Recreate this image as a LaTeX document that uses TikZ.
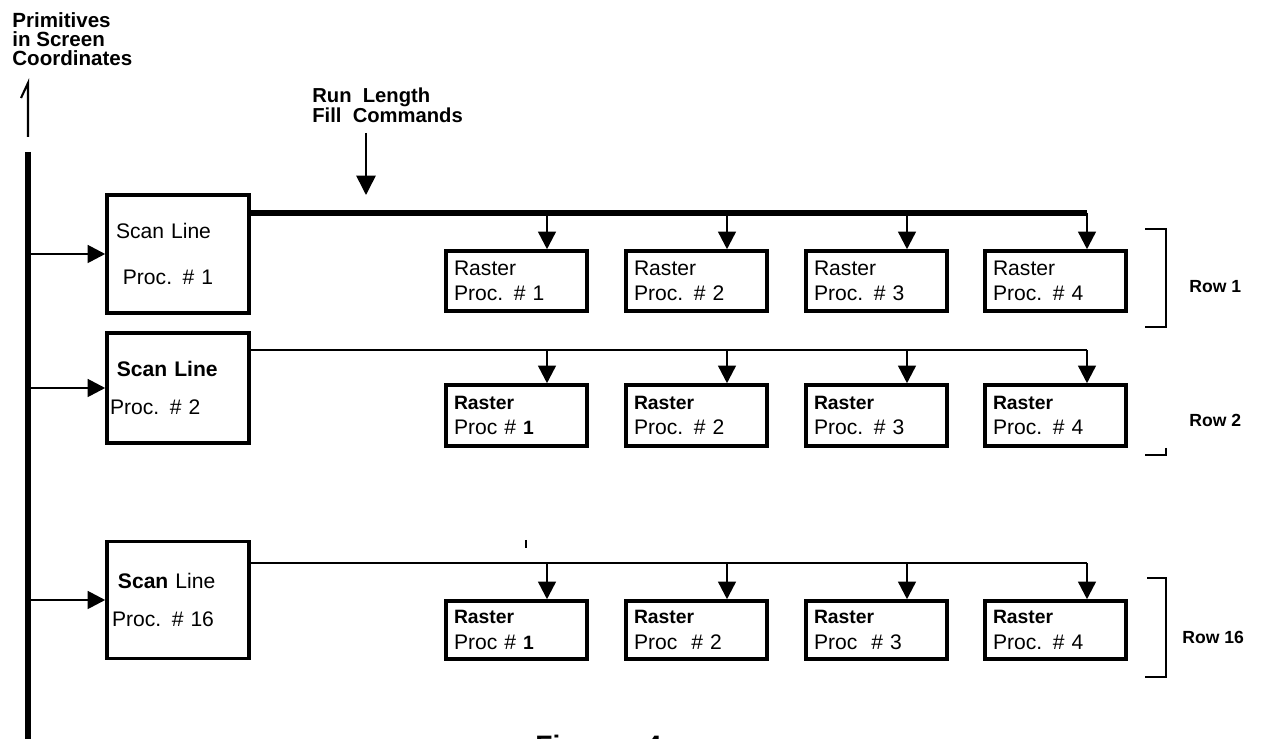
\documentclass[tikz,border=0pt]{standalone}
\usepackage{fontspec}
\setmainfont{Liberation Sans}
\usetikzlibrary{arrows.meta}
\newcommand{\bpart}[1]{{\fontsize{11}{14.5}\selectfont\bfseries #1}}
\tikzset{
  tip/.style={-{Triangle[length=10pt,width=10pt]}},
  scanbox/.style={draw,line width=2pt,minimum width=2.84cm,text width=2.64cm,inner xsep=0.1cm,align=left,font=\fontsize{12}{14.4}\selectfont},
  rasterbox/.style={draw,line width=2pt,minimum height=1.2cm,text width=2.5cm,inner xsep=0.16cm,inner ysep=0pt,align=left,font=\fontsize{12}{14.5}\selectfont},
  lbl/.style={inner sep=0pt,align=left,font=\bfseries\fontsize{11.7}{10.8}\selectfont},
  rowlbl/.style={anchor=base west,inner sep=0pt,font=\bfseries\fontsize{10}{12}\selectfont},
  feed/.style={tip,line width=1.6pt},
  drop/.style={tip,line width=1.4pt},
  bracket/.style={line width=0.7pt}
}
\begin{document}
\begin{tikzpicture}[x=0.02cm,y=-0.02cm]
\useasboundingbox (0,0) rectangle (1265,739);
% input side
\node[lbl,anchor=north west] (prim) at (12,12) {Primitives\\in Screen\\Coordinates};
\coordinate (in1) at (21,98); \coordinate (in2) at (28,83); \coordinate (in3) at (28,137);
\draw[line width=1.2pt] (in1) -- (in2) -- (in3);
\coordinate (bar) at (28,152); \coordinate (barend) at (28,745);
\draw[line width=3.4pt] (bar) -- (barend);

% scan line processors
\node[scanbox,minimum height=2.36cm] (s1) at (178,254) {\hspace*{2.3pt}Scan Line\\[12pt]\hspace*{6.2pt}Proc. \# 1};
\node[scanbox,minimum height=2.2cm] (s2) at (178,388) {\hspace*{2.8pt}\textbf{Scan Line}\\[7pt]\hspace*{-1.1pt}Proc. \# 2};
\node[scanbox,minimum height=2.34cm] (s16) at (178,600) {\hspace*{3.4pt}\textbf{Scan} Line\\[7pt]Proc. \# 16};
\draw[feed] (bar |- s1.west) -- (s1.west);
\draw[feed] (bar |- s2.west) -- (s2.west);
\draw[feed] (bar |- s16.west) -- (s16.west);

% raster processors
\node[rasterbox] (r11) at (516.5,281) {Raster\\Proc. \# 1};
\node[rasterbox] (r12) at (696.5,281) {Raster\\Proc. \# 2};
\node[rasterbox] (r13) at (876.5,281) {Raster\\Proc. \# 3};
\node[rasterbox] (r14) at (1055.5,281) {Raster\\Proc. \# 4};
\node[rasterbox,minimum height=1.22cm] (r21) at (516.5,415.5) {\bpart{Raster}\\Proc \# \bpart{1}};
\node[rasterbox,minimum height=1.22cm] (r22) at (696.5,415.5) {\bpart{Raster}\\Proc. \# 2};
\node[rasterbox,minimum height=1.22cm] (r23) at (876.5,415.5) {\bpart{Raster}\\Proc. \# 3};
\node[rasterbox,minimum height=1.22cm] (r24) at (1055.5,415.5) {\bpart{Raster}\\Proc. \# 4};
\node[rasterbox,minimum height=1.16cm] (r161) at (516.5,630) {\bpart{Raster}\\Proc \# \bpart{1}};
\node[rasterbox,minimum height=1.16cm] (r162) at (696.5,630) {\bpart{Raster}\\Proc~~\# 2};
\node[rasterbox,minimum height=1.16cm] (r163) at (876.5,630) {\bpart{Raster}\\Proc~~\# 3};
\node[rasterbox,minimum height=1.16cm] (r164) at (1055.5,630) {\bpart{Raster}\\Proc. \# 4};

% buses
\coordinate (b1) at (1087,213); \coordinate (b2) at (1087,350); \coordinate (b16) at (1087,563);
\draw[line width=3pt] (s1.east |- b1) -- (b1);
\draw[line width=1.3pt] (s2.east |- b2) -- (b2);
\draw[line width=1.3pt] (s16.east |- b16) -- (b16);
\foreach \r/\y in {1/213,2/350,16/563}
  \foreach \i in {1,...,4}{
    \coordinate (j\r\i) at ({367+180*\i},\y);
    \draw[drop] (j\r\i) -- (j\r\i |- r\r\i.north);
  }
\coordinate (tk) at (526,540);
\draw[line width=0.6pt] (tk) -- ++(0,8);

% run length label
\node[lbl,anchor=north west,font=\bfseries\fontsize{11.5}{11.3}\selectfont] (rlfc) at (312,88) {Run~~Length\\Fill~~Commands};
\coordinate (rl1) at (366,133); \coordinate (rl2) at (366,195);
\draw[line width=0.9pt,-{Triangle[length=11pt,width=11pt]}] (rl1) -- (rl2);

% rows
\draw[bracket] (1145,229) -- (1166,229) -- (1166,327) -- (1145,327);
\draw[bracket] (1166,448) -- (1166,455) -- (1145,455);
\draw[bracket] (1147,578) -- (1166,578) -- (1166,677) -- (1145,677);
\node[rowlbl] (row1) at (1189,293) {Row 1};
\node[rowlbl] (row2) at (1189,427) {Row 2};
\node[rowlbl] (row16) at (1182,643) {Row 16};
\node[anchor=base west,inner sep=0pt,font=\bfseries\fontsize{16}{16}\selectfont] (fig) at (535,755) {Figure\hspace{14pt}4};
\end{tikzpicture}
\end{document}
